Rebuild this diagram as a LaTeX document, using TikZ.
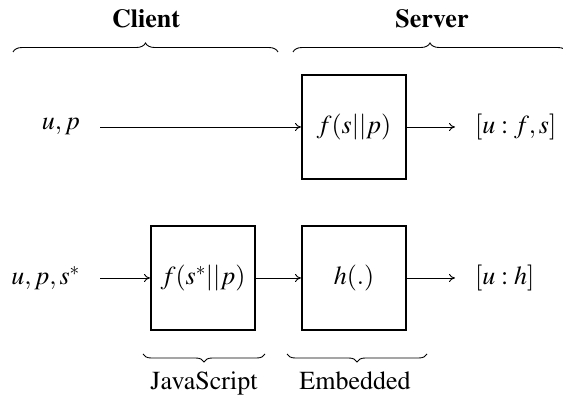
\documentclass[tikz,border=0pt]{standalone}
\usepackage[T1]{fontenc}
\usepackage{mathptmx}
\usetikzlibrary{decorations.pathreplacing,arrows.meta}
\begin{document}
\begin{tikzpicture}[x=1pt,y=-1pt,
  every node/.style={font=\fontsize{26}{31}\selectfont},
  blockbox/.style={draw,line width=2pt,minimum width=104pt,minimum height=104pt,inner sep=0pt},
  plain/.style={inner sep=0pt},
  flow/.style={-{To[length=6pt,width=8pt]},line width=0.9pt},
  bracetop/.style={decorate,decoration={brace,amplitude=9pt},line width=0.9pt},
  bracebot/.style={decorate,decoration={brace,amplitude=8pt,mirror},line width=0.9pt}]
\useasboundingbox (0,0) rectangle (563,403);
% titles
\node[plain,anchor=base,font=\bfseries\fontsize{26}{31}\selectfont] (client) at (146,28) {Client};
\node[plain,anchor=base,font=\bfseries\fontsize{26}{31}\selectfont] (server) at (432,28) {Server};
\coordinate (cb1) at (13,52); \coordinate (cb2) at (278,52);
\coordinate (sb1) at (293,52); \coordinate (sb2) at (567,52);
\draw[bracetop] (cb1) -- (cb2);
\draw[bracetop] (sb1) -- (sb2);
% row 1
\node[plain,anchor=east] (in1) at (80,127) {$u,p$};
\node[blockbox] (f1) at (354,127) {$f(s||p)$};
\node[plain,anchor=west] (out1) at (475,127) {$[u:f,s]$};
\draw[flow,shorten <=20pt] (in1.east) -- (f1.west);
\draw[flow,shorten >=20pt] (f1.east) -- (out1.west);
% row 2
\node[plain,anchor=east] (in2) at (80,278) {$u,p,s^*$};
\node[blockbox] (js) at (203,278) {$f(s^*||p)$};
\node[blockbox] (h) at (354,278) {$h(.)$};
\node[plain,anchor=west] (out2) at (475,278) {$[u:h]$};
\draw[flow,shorten <=20pt] (in2.east) -- (js.west);
\draw[flow] (js.east) -- (h.west);
\draw[flow,shorten >=20pt] (h.east) -- (out2.west);
% bottom braces
\coordinate (jb1) at (143,354); \coordinate (jb2) at (265,354);
\coordinate (eb1) at (287,354); \coordinate (eb2) at (427,354);
\draw[bracebot] (jb1) -- (jb2);
\draw[bracebot] (eb1) -- (eb2);
\node[plain,anchor=base] (jslab) at (204,390) {JavaScript};
\node[plain,anchor=base] (emblab) at (355,390) {Embedded};
\end{tikzpicture}
\end{document}
